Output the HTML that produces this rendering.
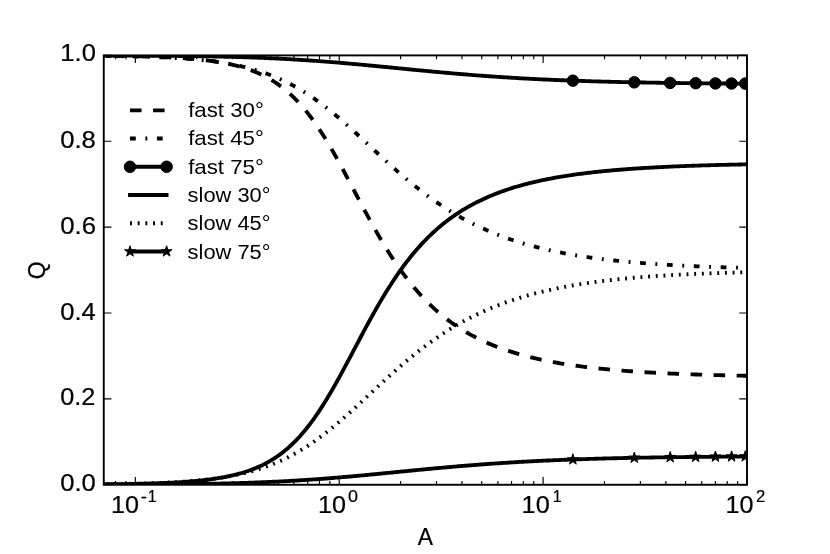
<!DOCTYPE html>
<html><head><meta charset="utf-8"><title>Q vs A</title>
<style>
html,body{margin:0;padding:0;background:#fff;}
body{width:830px;height:554px;overflow:hidden;font-family:"Liberation Sans",sans-serif;}
svg{display:block;}
text{fill:#000;stroke:#000;stroke-width:0.22px;}
text.lg{stroke:none;}
svg{filter:grayscale(1);}
</style></head><body>
<svg width="830" height="554" viewBox="0 0 830 554">
<defs><clipPath id="ax"><rect x="103.75" y="55.40" width="643.25" height="429.35"/></clipPath></defs>
<rect x="0" y="0" width="830" height="554" fill="#fff"/>
<g clip-path="url(#ax)" fill="none" stroke="#000" stroke-width="3.84" stroke-linejoin="round">
<path d="M103.75,55.82 L105.36,55.84 L106.97,55.86 L108.59,55.87 L110.20,55.89 L111.81,55.91 L113.42,55.93 L115.04,55.95 L116.65,55.97 L118.26,55.99 L119.87,56.02 L121.48,56.04 L123.10,56.06 L124.71,56.09 L126.32,56.12 L127.93,56.14 L129.54,56.17 L131.16,56.20 L132.77,56.23 L134.38,56.27 L135.99,56.30 L137.61,56.34 L139.22,56.37 L140.83,56.41 L142.44,56.45 L144.05,56.49 L145.67,56.53 L147.28,56.58 L148.89,56.62 L150.50,56.67 L152.11,56.72 L153.73,56.77 L155.34,56.83 L156.95,56.88 L158.56,56.94 L160.18,57.00 L161.79,57.06 L163.40,57.13 L165.01,57.20 L166.62,57.27 L168.24,57.34 L169.85,57.42 L171.46,57.50 L173.07,57.58 L174.68,57.67 L176.30,57.76 L177.91,57.85 L179.52,57.95 L181.13,58.05 L182.75,58.15 L184.36,58.26 L185.97,58.38 L187.58,58.50 L189.19,58.62 L190.81,58.75 L192.42,58.88 L194.03,59.02 L195.64,59.17 L197.26,59.32 L198.87,59.48 L200.48,59.64 L202.09,59.81 L203.70,59.99 L205.32,60.18 L206.93,60.37 L208.54,60.57 L210.15,60.78 L211.76,61.00 L213.38,61.22 L214.99,61.46 L216.60,61.71 L218.21,61.96 L219.83,62.23 L221.44,62.51 L223.05,62.80 L224.66,63.10 L226.27,63.41 L227.89,63.74 L229.50,64.08 L231.11,64.43 L232.72,64.80 L234.33,65.19 L235.95,65.59 L237.56,66.00 L239.17,66.44 L240.78,66.89 L242.40,67.36 L244.01,67.85 L245.62,68.36 L247.23,68.89 L248.84,69.44 L250.46,70.02 L252.07,70.62 L253.68,71.24 L255.29,71.89 L256.90,72.56 L258.52,73.27 L260.13,74.00 L261.74,74.75 L263.35,75.54 L264.97,76.36 L266.58,77.21 L268.19,78.10 L269.80,79.02 L271.41,79.98 L273.03,80.97 L274.64,82.00 L276.25,83.06 L277.86,84.17 L279.47,85.32 L281.09,86.51 L282.70,87.75 L284.31,89.03 L285.92,90.35 L287.54,91.73 L289.15,93.14 L290.76,94.61 L292.37,96.13 L293.98,97.70 L295.60,99.31 L297.21,100.98 L298.82,102.71 L300.43,104.48 L302.05,106.31 L303.66,108.20 L305.27,110.13 L306.88,112.13 L308.49,114.17 L310.11,116.28 L311.72,118.43 L313.33,120.64 L314.94,122.91 L316.55,125.22 L318.17,127.59 L319.78,130.02 L321.39,132.49 L323.00,135.01 L324.62,137.58 L326.23,140.19 L327.84,142.85 L329.45,145.56 L331.06,148.30 L332.68,151.08 L334.29,153.90 L335.90,156.76 L337.51,159.64 L339.12,162.56 L340.74,165.50 L342.35,168.47 L343.96,171.46 L345.57,174.47 L347.19,177.49 L348.80,180.52 L350.41,183.57 L352.02,186.62 L353.63,189.68 L355.25,192.73 L356.86,195.79 L358.47,198.84 L360.08,201.89 L361.69,204.92 L363.31,207.94 L364.92,210.95 L366.53,213.94 L368.14,216.91 L369.76,219.86 L371.37,222.79 L372.98,225.69 L374.59,228.56 L376.20,231.41 L377.82,234.22 L379.43,237.00 L381.04,239.75 L382.65,242.46 L384.27,245.14 L385.88,247.78 L387.49,250.38 L389.10,252.95 L390.71,255.47 L392.33,257.96 L393.94,260.40 L395.55,262.81 L397.16,265.17 L398.77,267.50 L400.39,269.78 L402.00,272.02 L403.61,274.22 L405.22,276.38 L406.84,278.50 L408.45,280.58 L410.06,282.61 L411.67,284.61 L413.28,286.57 L414.90,288.49 L416.51,290.37 L418.12,292.21 L419.73,294.01 L421.34,295.78 L422.96,297.51 L424.57,299.20 L426.18,300.85 L427.79,302.47 L429.41,304.06 L431.02,305.61 L432.63,307.13 L434.24,308.62 L435.85,310.07 L437.47,311.49 L439.08,312.88 L440.69,314.24 L442.30,315.57 L443.91,316.87 L445.53,318.14 L447.14,319.39 L448.75,320.60 L450.36,321.79 L451.98,322.96 L453.59,324.09 L455.20,325.21 L456.81,326.29 L458.42,327.36 L460.04,328.40 L461.65,329.41 L463.26,330.41 L464.87,331.38 L466.48,332.33 L468.10,333.26 L469.71,334.17 L471.32,335.06 L472.93,335.92 L474.55,336.77 L476.16,337.61 L477.77,338.42 L479.38,339.21 L480.99,339.99 L482.61,340.75 L484.22,341.50 L485.83,342.23 L487.44,342.94 L489.06,343.63 L490.67,344.32 L492.28,344.98 L493.89,345.64 L495.50,346.27 L497.12,346.90 L498.73,347.51 L500.34,348.11 L501.95,348.69 L503.56,349.26 L505.18,349.82 L506.79,350.37 L508.40,350.91 L510.01,351.44 L511.63,351.95 L513.24,352.45 L514.85,352.95 L516.46,353.43 L518.07,353.90 L519.69,354.36 L521.30,354.82 L522.91,355.26 L524.52,355.69 L526.13,356.12 L527.75,356.53 L529.36,356.94 L530.97,357.34 L532.58,357.73 L534.20,358.11 L535.81,358.49 L537.42,358.85 L539.03,359.21 L540.64,359.57 L542.26,359.91 L543.87,360.25 L545.48,360.58 L547.09,360.90 L548.70,361.22 L550.32,361.53 L551.93,361.84 L553.54,362.14 L555.15,362.43 L556.77,362.72 L558.38,363.00 L559.99,363.27 L561.60,363.54 L563.21,363.81 L564.83,364.07 L566.44,364.32 L568.05,364.57 L569.66,364.81 L571.28,365.05 L572.89,365.29 L574.50,365.52 L576.11,365.74 L577.72,365.96 L579.34,366.18 L580.95,366.39 L582.56,366.60 L584.17,366.80 L585.78,367.00 L587.40,367.20 L589.01,367.39 L590.62,367.58 L592.23,367.77 L593.85,367.95 L595.46,368.12 L597.07,368.30 L598.68,368.47 L600.29,368.64 L601.91,368.80 L603.52,368.96 L605.13,369.12 L606.74,369.28 L608.35,369.43 L609.97,369.58 L611.58,369.72 L613.19,369.87 L614.80,370.01 L616.42,370.14 L618.03,370.28 L619.64,370.41 L621.25,370.54 L622.86,370.67 L624.48,370.80 L626.09,370.92 L627.70,371.04 L629.31,371.16 L630.92,371.27 L632.54,371.39 L634.15,371.50 L635.76,371.61 L637.37,371.72 L638.99,371.82 L640.60,371.92 L642.21,372.03 L643.82,372.12 L645.43,372.22 L647.05,372.32 L648.66,372.41 L650.27,372.50 L651.88,372.59 L653.49,372.68 L655.11,372.77 L656.72,372.86 L658.33,372.94 L659.94,373.02 L661.56,373.10 L663.17,373.18 L664.78,373.26 L666.39,373.34 L668.00,373.41 L669.62,373.48 L671.23,373.56 L672.84,373.63 L674.45,373.70 L676.07,373.77 L677.68,373.83 L679.29,373.90 L680.90,373.96 L682.51,374.03 L684.13,374.09 L685.74,374.15 L687.35,374.21 L688.96,374.27 L690.57,374.32 L692.19,374.38 L693.80,374.44 L695.41,374.49 L697.02,374.54 L698.64,374.60 L700.25,374.65 L701.86,374.70 L703.47,374.75 L705.08,374.80 L706.70,374.84 L708.31,374.89 L709.92,374.94 L711.53,374.98 L713.14,375.03 L714.76,375.07 L716.37,375.11 L717.98,375.15 L719.59,375.20 L721.21,375.24 L722.82,375.28 L724.43,375.31 L726.04,375.35 L727.65,375.39 L729.27,375.43 L730.88,375.46 L732.49,375.50 L734.10,375.53 L735.71,375.57 L737.33,375.60 L738.94,375.63 L740.55,375.67 L742.16,375.70 L743.78,375.73 L745.39,375.76 L747.00,375.79" stroke-dasharray="11.53,11.53" stroke-dashoffset="13.15" stroke-linecap="butt"/>
<path d="M103.75,55.92 L105.36,55.94 L106.97,55.96 L108.59,55.98 L110.20,56.01 L111.81,56.03 L113.42,56.05 L115.04,56.08 L116.65,56.10 L118.26,56.13 L119.87,56.15 L121.48,56.18 L123.10,56.21 L124.71,56.24 L126.32,56.27 L127.93,56.30 L129.54,56.34 L131.16,56.37 L132.77,56.41 L134.38,56.44 L135.99,56.48 L137.61,56.52 L139.22,56.56 L140.83,56.61 L142.44,56.65 L144.05,56.70 L145.67,56.74 L147.28,56.79 L148.89,56.84 L150.50,56.90 L152.11,56.95 L153.73,57.01 L155.34,57.07 L156.95,57.13 L158.56,57.19 L160.18,57.26 L161.79,57.32 L163.40,57.40 L165.01,57.47 L166.62,57.54 L168.24,57.62 L169.85,57.70 L171.46,57.79 L173.07,57.87 L174.68,57.96 L176.30,58.06 L177.91,58.15 L179.52,58.25 L181.13,58.36 L182.75,58.47 L184.36,58.58 L185.97,58.69 L187.58,58.81 L189.19,58.93 L190.81,59.06 L192.42,59.19 L194.03,59.33 L195.64,59.47 L197.26,59.62 L198.87,59.77 L200.48,59.93 L202.09,60.09 L203.70,60.26 L205.32,60.43 L206.93,60.61 L208.54,60.80 L210.15,60.99 L211.76,61.19 L213.38,61.40 L214.99,61.61 L216.60,61.83 L218.21,62.06 L219.83,62.29 L221.44,62.53 L223.05,62.78 L224.66,63.04 L226.27,63.31 L227.89,63.59 L229.50,63.87 L231.11,64.17 L232.72,64.47 L234.33,64.79 L235.95,65.11 L237.56,65.45 L239.17,65.80 L240.78,66.15 L242.40,66.52 L244.01,66.90 L245.62,67.29 L247.23,67.70 L248.84,68.11 L250.46,68.54 L252.07,68.98 L253.68,69.44 L255.29,69.91 L256.90,70.39 L258.52,70.89 L260.13,71.40 L261.74,71.93 L263.35,72.47 L264.97,73.03 L266.58,73.60 L268.19,74.19 L269.80,74.79 L271.41,75.41 L273.03,76.05 L274.64,76.71 L276.25,77.38 L277.86,78.07 L279.47,78.78 L281.09,79.51 L282.70,80.25 L284.31,81.01 L285.92,81.80 L287.54,82.60 L289.15,83.42 L290.76,84.25 L292.37,85.11 L293.98,85.99 L295.60,86.89 L297.21,87.80 L298.82,88.74 L300.43,89.69 L302.05,90.67 L303.66,91.67 L305.27,92.68 L306.88,93.71 L308.49,94.77 L310.11,95.84 L311.72,96.93 L313.33,98.04 L314.94,99.17 L316.55,100.32 L318.17,101.49 L319.78,102.68 L321.39,103.88 L323.00,105.10 L324.62,106.34 L326.23,107.59 L327.84,108.87 L329.45,110.15 L331.06,111.46 L332.68,112.78 L334.29,114.11 L335.90,115.46 L337.51,116.82 L339.12,118.19 L340.74,119.58 L342.35,120.98 L343.96,122.39 L345.57,123.81 L347.19,125.24 L348.80,126.69 L350.41,128.14 L352.02,129.59 L353.63,131.06 L355.25,132.53 L356.86,134.01 L358.47,135.50 L360.08,136.99 L361.69,138.48 L363.31,139.98 L364.92,141.48 L366.53,142.98 L368.14,144.48 L369.76,145.99 L371.37,147.49 L372.98,149.00 L374.59,150.50 L376.20,152.00 L377.82,153.50 L379.43,154.99 L381.04,156.48 L382.65,157.97 L384.27,159.45 L385.88,160.93 L387.49,162.40 L389.10,163.86 L390.71,165.32 L392.33,166.77 L393.94,168.21 L395.55,169.64 L397.16,171.07 L398.77,172.48 L400.39,173.89 L402.00,175.28 L403.61,176.66 L405.22,178.04 L406.84,179.40 L408.45,180.75 L410.06,182.09 L411.67,183.42 L413.28,184.73 L414.90,186.03 L416.51,187.32 L418.12,188.60 L419.73,189.86 L421.34,191.11 L422.96,192.35 L424.57,193.57 L426.18,194.78 L427.79,195.97 L429.41,197.16 L431.02,198.32 L432.63,199.48 L434.24,200.62 L435.85,201.74 L437.47,202.85 L439.08,203.95 L440.69,205.03 L442.30,206.10 L443.91,207.15 L445.53,208.19 L447.14,209.22 L448.75,210.23 L450.36,211.23 L451.98,212.21 L453.59,213.18 L455.20,214.14 L456.81,215.08 L458.42,216.01 L460.04,216.93 L461.65,217.83 L463.26,218.72 L464.87,219.59 L466.48,220.45 L468.10,221.30 L469.71,222.14 L471.32,222.96 L472.93,223.77 L474.55,224.57 L476.16,225.35 L477.77,226.13 L479.38,226.89 L480.99,227.63 L482.61,228.37 L484.22,229.10 L485.83,229.81 L487.44,230.51 L489.06,231.20 L490.67,231.88 L492.28,232.55 L493.89,233.20 L495.50,233.85 L497.12,234.49 L498.73,235.11 L500.34,235.73 L501.95,236.33 L503.56,236.92 L505.18,237.51 L506.79,238.08 L508.40,238.65 L510.01,239.20 L511.63,239.75 L513.24,240.28 L514.85,240.81 L516.46,241.33 L518.07,241.84 L519.69,242.34 L521.30,242.83 L522.91,243.32 L524.52,243.79 L526.13,244.26 L527.75,244.72 L529.36,245.17 L530.97,245.61 L532.58,246.05 L534.20,246.48 L535.81,246.90 L537.42,247.31 L539.03,247.72 L540.64,248.12 L542.26,248.51 L543.87,248.89 L545.48,249.27 L547.09,249.64 L548.70,250.01 L550.32,250.37 L551.93,250.72 L553.54,251.07 L555.15,251.41 L556.77,251.74 L558.38,252.07 L559.99,252.39 L561.60,252.71 L563.21,253.02 L564.83,253.33 L566.44,253.63 L568.05,253.92 L569.66,254.21 L571.28,254.50 L572.89,254.78 L574.50,255.05 L576.11,255.32 L577.72,255.59 L579.34,255.85 L580.95,256.10 L582.56,256.35 L584.17,256.60 L585.78,256.84 L587.40,257.08 L589.01,257.31 L590.62,257.54 L592.23,257.77 L593.85,257.99 L595.46,258.21 L597.07,258.42 L598.68,258.63 L600.29,258.84 L601.91,259.04 L603.52,259.24 L605.13,259.43 L606.74,259.62 L608.35,259.81 L609.97,260.00 L611.58,260.18 L613.19,260.36 L614.80,260.53 L616.42,260.70 L618.03,260.87 L619.64,261.04 L621.25,261.20 L622.86,261.36 L624.48,261.52 L626.09,261.67 L627.70,261.82 L629.31,261.97 L630.92,262.12 L632.54,262.26 L634.15,262.40 L635.76,262.54 L637.37,262.68 L638.99,262.81 L640.60,262.94 L642.21,263.07 L643.82,263.19 L645.43,263.32 L647.05,263.44 L648.66,263.56 L650.27,263.68 L651.88,263.79 L653.49,263.91 L655.11,264.02 L656.72,264.13 L658.33,264.23 L659.94,264.34 L661.56,264.44 L663.17,264.54 L664.78,264.64 L666.39,264.74 L668.00,264.84 L669.62,264.93 L671.23,265.03 L672.84,265.12 L674.45,265.21 L676.07,265.29 L677.68,265.38 L679.29,265.46 L680.90,265.55 L682.51,265.63 L684.13,265.71 L685.74,265.79 L687.35,265.87 L688.96,265.94 L690.57,266.02 L692.19,266.09 L693.80,266.16 L695.41,266.23 L697.02,266.30 L698.64,266.37 L700.25,266.44 L701.86,266.50 L703.47,266.57 L705.08,266.63 L706.70,266.69 L708.31,266.75 L709.92,266.81 L711.53,266.87 L713.14,266.93 L714.76,266.99 L716.37,267.04 L717.98,267.10 L719.59,267.15 L721.21,267.20 L722.82,267.25 L724.43,267.31 L726.04,267.36 L727.65,267.40 L729.27,267.45 L730.88,267.50 L732.49,267.55 L734.10,267.59 L735.71,267.64 L737.33,267.68 L738.94,267.72 L740.55,267.77 L742.16,267.81 L743.78,267.85 L745.39,267.89 L747.00,267.93" stroke-dasharray="5.77,9.61,1.92,9.61" stroke-dashoffset="24.95" stroke-linecap="butt"/>
<path d="M103.75,55.52 L105.36,55.52 L106.97,55.53 L108.59,55.53 L110.20,55.53 L111.81,55.54 L113.42,55.54 L115.04,55.55 L116.65,55.55 L118.26,55.56 L119.87,55.56 L121.48,55.57 L123.10,55.58 L124.71,55.58 L126.32,55.59 L127.93,55.59 L129.54,55.60 L131.16,55.61 L132.77,55.62 L134.38,55.62 L135.99,55.63 L137.61,55.64 L139.22,55.65 L140.83,55.65 L142.44,55.66 L144.05,55.67 L145.67,55.68 L147.28,55.69 L148.89,55.70 L150.50,55.71 L152.11,55.72 L153.73,55.73 L155.34,55.74 L156.95,55.75 L158.56,55.77 L160.18,55.78 L161.79,55.79 L163.40,55.80 L165.01,55.82 L166.62,55.83 L168.24,55.84 L169.85,55.86 L171.46,55.87 L173.07,55.89 L174.68,55.90 L176.30,55.92 L177.91,55.94 L179.52,55.96 L181.13,55.97 L182.75,55.99 L184.36,56.01 L185.97,56.03 L187.58,56.05 L189.19,56.07 L190.81,56.09 L192.42,56.11 L194.03,56.14 L195.64,56.16 L197.26,56.18 L198.87,56.21 L200.48,56.23 L202.09,56.26 L203.70,56.29 L205.32,56.31 L206.93,56.34 L208.54,56.37 L210.15,56.40 L211.76,56.43 L213.38,56.46 L214.99,56.49 L216.60,56.53 L218.21,56.56 L219.83,56.60 L221.44,56.63 L223.05,56.67 L224.66,56.71 L226.27,56.74 L227.89,56.78 L229.50,56.82 L231.11,56.87 L232.72,56.91 L234.33,56.95 L235.95,57.00 L237.56,57.04 L239.17,57.09 L240.78,57.14 L242.40,57.19 L244.01,57.24 L245.62,57.29 L247.23,57.34 L248.84,57.40 L250.46,57.45 L252.07,57.51 L253.68,57.57 L255.29,57.62 L256.90,57.68 L258.52,57.75 L260.13,57.81 L261.74,57.87 L263.35,57.94 L264.97,58.01 L266.58,58.08 L268.19,58.15 L269.80,58.22 L271.41,58.29 L273.03,58.36 L274.64,58.44 L276.25,58.52 L277.86,58.60 L279.47,58.68 L281.09,58.76 L282.70,58.84 L284.31,58.92 L285.92,59.01 L287.54,59.10 L289.15,59.19 L290.76,59.28 L292.37,59.37 L293.98,59.46 L295.60,59.56 L297.21,59.66 L298.82,59.76 L300.43,59.86 L302.05,59.96 L303.66,60.06 L305.27,60.17 L306.88,60.27 L308.49,60.38 L310.11,60.49 L311.72,60.60 L313.33,60.71 L314.94,60.83 L316.55,60.94 L318.17,61.06 L319.78,61.18 L321.39,61.30 L323.00,61.42 L324.62,61.54 L326.23,61.66 L327.84,61.79 L329.45,61.92 L331.06,62.05 L332.68,62.18 L334.29,62.31 L335.90,62.44 L337.51,62.57 L339.12,62.71 L340.74,62.84 L342.35,62.98 L343.96,63.12 L345.57,63.26 L347.19,63.40 L348.80,63.54 L350.41,63.68 L352.02,63.83 L353.63,63.97 L355.25,64.12 L356.86,64.27 L358.47,64.41 L360.08,64.56 L361.69,64.71 L363.31,64.86 L364.92,65.01 L366.53,65.16 L368.14,65.32 L369.76,65.47 L371.37,65.62 L372.98,65.78 L374.59,65.93 L376.20,66.09 L377.82,66.25 L379.43,66.40 L381.04,66.56 L382.65,66.72 L384.27,66.87 L385.88,67.03 L387.49,67.19 L389.10,67.35 L390.71,67.51 L392.33,67.67 L393.94,67.82 L395.55,67.98 L397.16,68.14 L398.77,68.30 L400.39,68.46 L402.00,68.62 L403.61,68.78 L405.22,68.93 L406.84,69.09 L408.45,69.25 L410.06,69.41 L411.67,69.57 L413.28,69.72 L414.90,69.88 L416.51,70.04 L418.12,70.19 L419.73,70.35 L421.34,70.50 L422.96,70.66 L424.57,70.81 L426.18,70.96 L427.79,71.12 L429.41,71.27 L431.02,71.42 L432.63,71.57 L434.24,71.72 L435.85,71.87 L437.47,72.02 L439.08,72.17 L440.69,72.31 L442.30,72.46 L443.91,72.60 L445.53,72.75 L447.14,72.89 L448.75,73.03 L450.36,73.17 L451.98,73.31 L453.59,73.45 L455.20,73.59 L456.81,73.73 L458.42,73.87 L460.04,74.00 L461.65,74.14 L463.26,74.27 L464.87,74.40 L466.48,74.53 L468.10,74.66 L469.71,74.79 L471.32,74.92 L472.93,75.05 L474.55,75.17 L476.16,75.30 L477.77,75.42 L479.38,75.54 L480.99,75.66 L482.61,75.78 L484.22,75.90 L485.83,76.02 L487.44,76.13 L489.06,76.25 L490.67,76.36 L492.28,76.47 L493.89,76.59 L495.50,76.70 L497.12,76.80 L498.73,76.91 L500.34,77.02 L501.95,77.12 L503.56,77.23 L505.18,77.33 L506.79,77.43 L508.40,77.53 L510.01,77.63 L511.63,77.73 L513.24,77.83 L514.85,77.93 L516.46,78.02 L518.07,78.11 L519.69,78.21 L521.30,78.30 L522.91,78.39 L524.52,78.48 L526.13,78.56 L527.75,78.65 L529.36,78.74 L530.97,78.82 L532.58,78.91 L534.20,78.99 L535.81,79.07 L537.42,79.15 L539.03,79.23 L540.64,79.31 L542.26,79.38 L543.87,79.46 L545.48,79.53 L547.09,79.61 L548.70,79.68 L550.32,79.75 L551.93,79.82 L553.54,79.89 L555.15,79.96 L556.77,80.03 L558.38,80.10 L559.99,80.16 L561.60,80.23 L563.21,80.29 L564.83,80.36 L566.44,80.42 L568.05,80.48 L569.66,80.54 L571.28,80.60 L572.89,80.66 L574.50,80.72 L576.11,80.77 L577.72,80.83 L579.34,80.88 L580.95,80.94 L582.56,80.99 L584.17,81.04 L585.78,81.10 L587.40,81.15 L589.01,81.20 L590.62,81.25 L592.23,81.30 L593.85,81.34 L595.46,81.39 L597.07,81.44 L598.68,81.48 L600.29,81.53 L601.91,81.57 L603.52,81.62 L605.13,81.66 L606.74,81.70 L608.35,81.74 L609.97,81.79 L611.58,81.83 L613.19,81.87 L614.80,81.90 L616.42,81.94 L618.03,81.98 L619.64,82.02 L621.25,82.05 L622.86,82.09 L624.48,82.13 L626.09,82.16 L627.70,82.20 L629.31,82.23 L630.92,82.26 L632.54,82.30 L634.15,82.33 L635.76,82.36 L637.37,82.39 L638.99,82.42 L640.60,82.45 L642.21,82.48 L643.82,82.51 L645.43,82.54 L647.05,82.57 L648.66,82.59 L650.27,82.62 L651.88,82.65 L653.49,82.67 L655.11,82.70 L656.72,82.73 L658.33,82.75 L659.94,82.77 L661.56,82.80 L663.17,82.82 L664.78,82.85 L666.39,82.87 L668.00,82.89 L669.62,82.91 L671.23,82.94 L672.84,82.96 L674.45,82.98 L676.07,83.00 L677.68,83.02 L679.29,83.04 L680.90,83.06 L682.51,83.08 L684.13,83.10 L685.74,83.12 L687.35,83.13 L688.96,83.15 L690.57,83.17 L692.19,83.19 L693.80,83.21 L695.41,83.22 L697.02,83.24 L698.64,83.25 L700.25,83.27 L701.86,83.29 L703.47,83.30 L705.08,83.32 L706.70,83.33 L708.31,83.35 L709.92,83.36 L711.53,83.38 L713.14,83.39 L714.76,83.40 L716.37,83.42 L717.98,83.43 L719.59,83.44 L721.21,83.46 L722.82,83.47 L724.43,83.48 L726.04,83.49 L727.65,83.50 L729.27,83.52 L730.88,83.53 L732.49,83.54 L734.10,83.55 L735.71,83.56 L737.33,83.57 L738.94,83.58 L740.55,83.59 L742.16,83.60 L743.78,83.61 L745.39,83.62 L747.00,83.63" stroke-linecap="square"/>
<circle cx="572.90" cy="80.66" r="5.77" fill="#000" stroke="#000" stroke-width="0.96"/>
<circle cx="634.28" cy="82.33" r="5.77" fill="#000" stroke="#000" stroke-width="0.96"/>
<circle cx="670.18" cy="82.92" r="5.77" fill="#000" stroke="#000" stroke-width="0.96"/>
<circle cx="695.66" cy="83.22" r="5.77" fill="#000" stroke="#000" stroke-width="0.96"/>
<circle cx="715.42" cy="83.41" r="5.77" fill="#000" stroke="#000" stroke-width="0.96"/>
<circle cx="731.56" cy="83.53" r="5.77" fill="#000" stroke="#000" stroke-width="0.96"/>
<circle cx="745.21" cy="83.62" r="5.77" fill="#000" stroke="#000" stroke-width="0.96"/>
<path d="M103.75,484.33 L105.36,484.31 L106.97,484.29 L108.59,484.28 L110.20,484.26 L111.81,484.24 L113.42,484.22 L115.04,484.20 L116.65,484.18 L118.26,484.16 L119.87,484.13 L121.48,484.11 L123.10,484.09 L124.71,484.06 L126.32,484.03 L127.93,484.01 L129.54,483.98 L131.16,483.95 L132.77,483.92 L134.38,483.88 L135.99,483.85 L137.61,483.81 L139.22,483.78 L140.83,483.74 L142.44,483.70 L144.05,483.66 L145.67,483.62 L147.28,483.57 L148.89,483.53 L150.50,483.48 L152.11,483.43 L153.73,483.38 L155.34,483.32 L156.95,483.27 L158.56,483.21 L160.18,483.15 L161.79,483.09 L163.40,483.02 L165.01,482.95 L166.62,482.88 L168.24,482.81 L169.85,482.73 L171.46,482.65 L173.07,482.57 L174.68,482.48 L176.30,482.39 L177.91,482.30 L179.52,482.20 L181.13,482.10 L182.75,482.00 L184.36,481.89 L185.97,481.77 L187.58,481.65 L189.19,481.53 L190.81,481.40 L192.42,481.27 L194.03,481.13 L195.64,480.98 L197.26,480.83 L198.87,480.67 L200.48,480.51 L202.09,480.34 L203.70,480.16 L205.32,479.97 L206.93,479.78 L208.54,479.58 L210.15,479.37 L211.76,479.15 L213.38,478.93 L214.99,478.69 L216.60,478.44 L218.21,478.19 L219.83,477.92 L221.44,477.64 L223.05,477.35 L224.66,477.05 L226.27,476.74 L227.89,476.41 L229.50,476.07 L231.11,475.72 L232.72,475.35 L234.33,474.96 L235.95,474.56 L237.56,474.15 L239.17,473.71 L240.78,473.26 L242.40,472.79 L244.01,472.30 L245.62,471.79 L247.23,471.26 L248.84,470.71 L250.46,470.13 L252.07,469.53 L253.68,468.91 L255.29,468.26 L256.90,467.59 L258.52,466.88 L260.13,466.15 L261.74,465.40 L263.35,464.61 L264.97,463.79 L266.58,462.94 L268.19,462.05 L269.80,461.13 L271.41,460.17 L273.03,459.18 L274.64,458.15 L276.25,457.09 L277.86,455.98 L279.47,454.83 L281.09,453.64 L282.70,452.40 L284.31,451.12 L285.92,449.80 L287.54,448.42 L289.15,447.01 L290.76,445.54 L292.37,444.02 L293.98,442.45 L295.60,440.84 L297.21,439.17 L298.82,437.44 L300.43,435.67 L302.05,433.84 L303.66,431.95 L305.27,430.02 L306.88,428.02 L308.49,425.98 L310.11,423.87 L311.72,421.72 L313.33,419.51 L314.94,417.24 L316.55,414.93 L318.17,412.56 L319.78,410.13 L321.39,407.66 L323.00,405.14 L324.62,402.57 L326.23,399.96 L327.84,397.30 L329.45,394.59 L331.06,391.85 L332.68,389.07 L334.29,386.25 L335.90,383.39 L337.51,380.51 L339.12,377.59 L340.74,374.65 L342.35,371.68 L343.96,368.69 L345.57,365.68 L347.19,362.66 L348.80,359.63 L350.41,356.58 L352.02,353.53 L353.63,350.47 L355.25,347.42 L356.86,344.36 L358.47,341.31 L360.08,338.26 L361.69,335.23 L363.31,332.21 L364.92,329.20 L366.53,326.21 L368.14,323.24 L369.76,320.29 L371.37,317.36 L372.98,314.46 L374.59,311.59 L376.20,308.74 L377.82,305.93 L379.43,303.15 L381.04,300.40 L382.65,297.69 L384.27,295.01 L385.88,292.37 L387.49,289.77 L389.10,287.20 L390.71,284.68 L392.33,282.19 L393.94,279.75 L395.55,277.34 L397.16,274.98 L398.77,272.65 L400.39,270.37 L402.00,268.13 L403.61,265.93 L405.22,263.77 L406.84,261.65 L408.45,259.57 L410.06,257.54 L411.67,255.54 L413.28,253.58 L414.90,251.66 L416.51,249.78 L418.12,247.94 L419.73,246.14 L421.34,244.37 L422.96,242.64 L424.57,240.95 L426.18,239.30 L427.79,237.68 L429.41,236.09 L431.02,234.54 L432.63,233.02 L434.24,231.53 L435.85,230.08 L437.47,228.66 L439.08,227.27 L440.69,225.91 L442.30,224.58 L443.91,223.28 L445.53,222.01 L447.14,220.76 L448.75,219.55 L450.36,218.36 L451.98,217.19 L453.59,216.06 L455.20,214.94 L456.81,213.86 L458.42,212.79 L460.04,211.75 L461.65,210.74 L463.26,209.74 L464.87,208.77 L466.48,207.82 L468.10,206.89 L469.71,205.98 L471.32,205.09 L472.93,204.23 L474.55,203.38 L476.16,202.54 L477.77,201.73 L479.38,200.94 L480.99,200.16 L482.61,199.40 L484.22,198.65 L485.83,197.92 L487.44,197.21 L489.06,196.52 L490.67,195.83 L492.28,195.17 L493.89,194.51 L495.50,193.88 L497.12,193.25 L498.73,192.64 L500.34,192.04 L501.95,191.46 L503.56,190.89 L505.18,190.33 L506.79,189.78 L508.40,189.24 L510.01,188.71 L511.63,188.20 L513.24,187.70 L514.85,187.20 L516.46,186.72 L518.07,186.25 L519.69,185.79 L521.30,185.33 L522.91,184.89 L524.52,184.46 L526.13,184.03 L527.75,183.62 L529.36,183.21 L530.97,182.81 L532.58,182.42 L534.20,182.04 L535.81,181.66 L537.42,181.30 L539.03,180.94 L540.64,180.58 L542.26,180.24 L543.87,179.90 L545.48,179.57 L547.09,179.25 L548.70,178.93 L550.32,178.62 L551.93,178.31 L553.54,178.01 L555.15,177.72 L556.77,177.43 L558.38,177.15 L559.99,176.88 L561.60,176.61 L563.21,176.34 L564.83,176.08 L566.44,175.83 L568.05,175.58 L569.66,175.34 L571.28,175.10 L572.89,174.86 L574.50,174.63 L576.11,174.41 L577.72,174.19 L579.34,173.97 L580.95,173.76 L582.56,173.55 L584.17,173.35 L585.78,173.15 L587.40,172.95 L589.01,172.76 L590.62,172.57 L592.23,172.38 L593.85,172.20 L595.46,172.03 L597.07,171.85 L598.68,171.68 L600.29,171.51 L601.91,171.35 L603.52,171.19 L605.13,171.03 L606.74,170.87 L608.35,170.72 L609.97,170.57 L611.58,170.43 L613.19,170.28 L614.80,170.14 L616.42,170.01 L618.03,169.87 L619.64,169.74 L621.25,169.61 L622.86,169.48 L624.48,169.35 L626.09,169.23 L627.70,169.11 L629.31,168.99 L630.92,168.88 L632.54,168.76 L634.15,168.65 L635.76,168.54 L637.37,168.43 L638.99,168.33 L640.60,168.23 L642.21,168.12 L643.82,168.03 L645.43,167.93 L647.05,167.83 L648.66,167.74 L650.27,167.65 L651.88,167.56 L653.49,167.47 L655.11,167.38 L656.72,167.29 L658.33,167.21 L659.94,167.13 L661.56,167.05 L663.17,166.97 L664.78,166.89 L666.39,166.81 L668.00,166.74 L669.62,166.67 L671.23,166.59 L672.84,166.52 L674.45,166.45 L676.07,166.38 L677.68,166.32 L679.29,166.25 L680.90,166.19 L682.51,166.12 L684.13,166.06 L685.74,166.00 L687.35,165.94 L688.96,165.88 L690.57,165.83 L692.19,165.77 L693.80,165.71 L695.41,165.66 L697.02,165.61 L698.64,165.55 L700.25,165.50 L701.86,165.45 L703.47,165.40 L705.08,165.35 L706.70,165.31 L708.31,165.26 L709.92,165.21 L711.53,165.17 L713.14,165.12 L714.76,165.08 L716.37,165.04 L717.98,165.00 L719.59,164.95 L721.21,164.91 L722.82,164.87 L724.43,164.84 L726.04,164.80 L727.65,164.76 L729.27,164.72 L730.88,164.69 L732.49,164.65 L734.10,164.62 L735.71,164.58 L737.33,164.55 L738.94,164.52 L740.55,164.48 L742.16,164.45 L743.78,164.42 L745.39,164.39 L747.00,164.36" stroke-linecap="square"/>
<path d="M103.75,484.23 L105.36,484.21 L106.97,484.19 L108.59,484.17 L110.20,484.14 L111.81,484.12 L113.42,484.10 L115.04,484.07 L116.65,484.05 L118.26,484.02 L119.87,484.00 L121.48,483.97 L123.10,483.94 L124.71,483.91 L126.32,483.88 L127.93,483.85 L129.54,483.81 L131.16,483.78 L132.77,483.74 L134.38,483.71 L135.99,483.67 L137.61,483.63 L139.22,483.59 L140.83,483.54 L142.44,483.50 L144.05,483.45 L145.67,483.41 L147.28,483.36 L148.89,483.31 L150.50,483.25 L152.11,483.20 L153.73,483.14 L155.34,483.08 L156.95,483.02 L158.56,482.96 L160.18,482.89 L161.79,482.83 L163.40,482.75 L165.01,482.68 L166.62,482.61 L168.24,482.53 L169.85,482.45 L171.46,482.36 L173.07,482.28 L174.68,482.19 L176.30,482.09 L177.91,482.00 L179.52,481.90 L181.13,481.79 L182.75,481.68 L184.36,481.57 L185.97,481.46 L187.58,481.34 L189.19,481.22 L190.81,481.09 L192.42,480.96 L194.03,480.82 L195.64,480.68 L197.26,480.53 L198.87,480.38 L200.48,480.22 L202.09,480.06 L203.70,479.89 L205.32,479.72 L206.93,479.54 L208.54,479.35 L210.15,479.16 L211.76,478.96 L213.38,478.75 L214.99,478.54 L216.60,478.32 L218.21,478.09 L219.83,477.86 L221.44,477.62 L223.05,477.37 L224.66,477.11 L226.27,476.84 L227.89,476.56 L229.50,476.28 L231.11,475.98 L232.72,475.68 L234.33,475.36 L235.95,475.04 L237.56,474.70 L239.17,474.35 L240.78,474.00 L242.40,473.63 L244.01,473.25 L245.62,472.86 L247.23,472.45 L248.84,472.04 L250.46,471.61 L252.07,471.17 L253.68,470.71 L255.29,470.24 L256.90,469.76 L258.52,469.26 L260.13,468.75 L261.74,468.22 L263.35,467.68 L264.97,467.12 L266.58,466.55 L268.19,465.96 L269.80,465.36 L271.41,464.74 L273.03,464.10 L274.64,463.44 L276.25,462.77 L277.86,462.08 L279.47,461.37 L281.09,460.64 L282.70,459.90 L284.31,459.14 L285.92,458.35 L287.54,457.55 L289.15,456.73 L290.76,455.90 L292.37,455.04 L293.98,454.16 L295.60,453.26 L297.21,452.35 L298.82,451.41 L300.43,450.46 L302.05,449.48 L303.66,448.48 L305.27,447.47 L306.88,446.44 L308.49,445.38 L310.11,444.31 L311.72,443.22 L313.33,442.11 L314.94,440.98 L316.55,439.83 L318.17,438.66 L319.78,437.47 L321.39,436.27 L323.00,435.05 L324.62,433.81 L326.23,432.56 L327.84,431.28 L329.45,430.00 L331.06,428.69 L332.68,427.37 L334.29,426.04 L335.90,424.69 L337.51,423.33 L339.12,421.96 L340.74,420.57 L342.35,419.17 L343.96,417.76 L345.57,416.34 L347.19,414.91 L348.80,413.46 L350.41,412.01 L352.02,410.56 L353.63,409.09 L355.25,407.62 L356.86,406.14 L358.47,404.65 L360.08,403.16 L361.69,401.67 L363.31,400.17 L364.92,398.67 L366.53,397.17 L368.14,395.67 L369.76,394.16 L371.37,392.66 L372.98,391.15 L374.59,389.65 L376.20,388.15 L377.82,386.65 L379.43,385.16 L381.04,383.67 L382.65,382.18 L384.27,380.70 L385.88,379.22 L387.49,377.75 L389.10,376.29 L390.71,374.83 L392.33,373.38 L393.94,371.94 L395.55,370.51 L397.16,369.08 L398.77,367.67 L400.39,366.26 L402.00,364.87 L403.61,363.49 L405.22,362.11 L406.84,360.75 L408.45,359.40 L410.06,358.06 L411.67,356.73 L413.28,355.42 L414.90,354.12 L416.51,352.83 L418.12,351.55 L419.73,350.29 L421.34,349.04 L422.96,347.80 L424.57,346.58 L426.18,345.37 L427.79,344.18 L429.41,342.99 L431.02,341.83 L432.63,340.67 L434.24,339.53 L435.85,338.41 L437.47,337.30 L439.08,336.20 L440.69,335.12 L442.30,334.05 L443.91,333.00 L445.53,331.96 L447.14,330.93 L448.75,329.92 L450.36,328.92 L451.98,327.94 L453.59,326.97 L455.20,326.01 L456.81,325.07 L458.42,324.14 L460.04,323.22 L461.65,322.32 L463.26,321.43 L464.87,320.56 L466.48,319.70 L468.10,318.85 L469.71,318.01 L471.32,317.19 L472.93,316.38 L474.55,315.58 L476.16,314.80 L477.77,314.02 L479.38,313.26 L480.99,312.52 L482.61,311.78 L484.22,311.05 L485.83,310.34 L487.44,309.64 L489.06,308.95 L490.67,308.27 L492.28,307.60 L493.89,306.95 L495.50,306.30 L497.12,305.66 L498.73,305.04 L500.34,304.42 L501.95,303.82 L503.56,303.23 L505.18,302.64 L506.79,302.07 L508.40,301.50 L510.01,300.95 L511.63,300.40 L513.24,299.87 L514.85,299.34 L516.46,298.82 L518.07,298.31 L519.69,297.81 L521.30,297.32 L522.91,296.83 L524.52,296.36 L526.13,295.89 L527.75,295.43 L529.36,294.98 L530.97,294.54 L532.58,294.10 L534.20,293.67 L535.81,293.25 L537.42,292.84 L539.03,292.43 L540.64,292.03 L542.26,291.64 L543.87,291.26 L545.48,290.88 L547.09,290.51 L548.70,290.14 L550.32,289.78 L551.93,289.43 L553.54,289.08 L555.15,288.74 L556.77,288.41 L558.38,288.08 L559.99,287.76 L561.60,287.44 L563.21,287.13 L564.83,286.82 L566.44,286.52 L568.05,286.23 L569.66,285.94 L571.28,285.65 L572.89,285.37 L574.50,285.10 L576.11,284.83 L577.72,284.56 L579.34,284.30 L580.95,284.05 L582.56,283.80 L584.17,283.55 L585.78,283.31 L587.40,283.07 L589.01,282.84 L590.62,282.61 L592.23,282.38 L593.85,282.16 L595.46,281.94 L597.07,281.73 L598.68,281.52 L600.29,281.31 L601.91,281.11 L603.52,280.91 L605.13,280.72 L606.74,280.53 L608.35,280.34 L609.97,280.15 L611.58,279.97 L613.19,279.79 L614.80,279.62 L616.42,279.45 L618.03,279.28 L619.64,279.11 L621.25,278.95 L622.86,278.79 L624.48,278.63 L626.09,278.48 L627.70,278.33 L629.31,278.18 L630.92,278.03 L632.54,277.89 L634.15,277.75 L635.76,277.61 L637.37,277.47 L638.99,277.34 L640.60,277.21 L642.21,277.08 L643.82,276.96 L645.43,276.83 L647.05,276.71 L648.66,276.59 L650.27,276.47 L651.88,276.36 L653.49,276.24 L655.11,276.13 L656.72,276.02 L658.33,275.92 L659.94,275.81 L661.56,275.71 L663.17,275.61 L664.78,275.51 L666.39,275.41 L668.00,275.31 L669.62,275.22 L671.23,275.12 L672.84,275.03 L674.45,274.94 L676.07,274.86 L677.68,274.77 L679.29,274.69 L680.90,274.60 L682.51,274.52 L684.13,274.44 L685.74,274.36 L687.35,274.28 L688.96,274.21 L690.57,274.13 L692.19,274.06 L693.80,273.99 L695.41,273.92 L697.02,273.85 L698.64,273.78 L700.25,273.71 L701.86,273.65 L703.47,273.58 L705.08,273.52 L706.70,273.46 L708.31,273.40 L709.92,273.34 L711.53,273.28 L713.14,273.22 L714.76,273.16 L716.37,273.11 L717.98,273.05 L719.59,273.00 L721.21,272.95 L722.82,272.90 L724.43,272.84 L726.04,272.79 L727.65,272.75 L729.27,272.70 L730.88,272.65 L732.49,272.60 L734.10,272.56 L735.71,272.51 L737.33,272.47 L738.94,272.43 L740.55,272.38 L742.16,272.34 L743.78,272.30 L745.39,272.26 L747.00,272.22" stroke-dasharray="1.92,5.77" stroke-dashoffset="5.44" stroke-linecap="butt"/>
<path d="M103.75,484.63 L105.36,484.63 L106.97,484.62 L108.59,484.62 L110.20,484.62 L111.81,484.61 L113.42,484.61 L115.04,484.60 L116.65,484.60 L118.26,484.59 L119.87,484.59 L121.48,484.58 L123.10,484.57 L124.71,484.57 L126.32,484.56 L127.93,484.56 L129.54,484.55 L131.16,484.54 L132.77,484.53 L134.38,484.53 L135.99,484.52 L137.61,484.51 L139.22,484.50 L140.83,484.50 L142.44,484.49 L144.05,484.48 L145.67,484.47 L147.28,484.46 L148.89,484.45 L150.50,484.44 L152.11,484.43 L153.73,484.42 L155.34,484.41 L156.95,484.40 L158.56,484.38 L160.18,484.37 L161.79,484.36 L163.40,484.35 L165.01,484.33 L166.62,484.32 L168.24,484.31 L169.85,484.29 L171.46,484.28 L173.07,484.26 L174.68,484.25 L176.30,484.23 L177.91,484.21 L179.52,484.19 L181.13,484.18 L182.75,484.16 L184.36,484.14 L185.97,484.12 L187.58,484.10 L189.19,484.08 L190.81,484.06 L192.42,484.04 L194.03,484.01 L195.64,483.99 L197.26,483.97 L198.87,483.94 L200.48,483.92 L202.09,483.89 L203.70,483.86 L205.32,483.84 L206.93,483.81 L208.54,483.78 L210.15,483.75 L211.76,483.72 L213.38,483.69 L214.99,483.66 L216.60,483.62 L218.21,483.59 L219.83,483.55 L221.44,483.52 L223.05,483.48 L224.66,483.44 L226.27,483.41 L227.89,483.37 L229.50,483.33 L231.11,483.28 L232.72,483.24 L234.33,483.20 L235.95,483.15 L237.56,483.11 L239.17,483.06 L240.78,483.01 L242.40,482.96 L244.01,482.91 L245.62,482.86 L247.23,482.81 L248.84,482.75 L250.46,482.70 L252.07,482.64 L253.68,482.58 L255.29,482.53 L256.90,482.47 L258.52,482.40 L260.13,482.34 L261.74,482.28 L263.35,482.21 L264.97,482.14 L266.58,482.07 L268.19,482.00 L269.80,481.93 L271.41,481.86 L273.03,481.79 L274.64,481.71 L276.25,481.63 L277.86,481.55 L279.47,481.47 L281.09,481.39 L282.70,481.31 L284.31,481.23 L285.92,481.14 L287.54,481.05 L289.15,480.96 L290.76,480.87 L292.37,480.78 L293.98,480.69 L295.60,480.59 L297.21,480.49 L298.82,480.39 L300.43,480.29 L302.05,480.19 L303.66,480.09 L305.27,479.98 L306.88,479.88 L308.49,479.77 L310.11,479.66 L311.72,479.55 L313.33,479.44 L314.94,479.32 L316.55,479.21 L318.17,479.09 L319.78,478.97 L321.39,478.85 L323.00,478.73 L324.62,478.61 L326.23,478.49 L327.84,478.36 L329.45,478.23 L331.06,478.10 L332.68,477.97 L334.29,477.84 L335.90,477.71 L337.51,477.58 L339.12,477.44 L340.74,477.31 L342.35,477.17 L343.96,477.03 L345.57,476.89 L347.19,476.75 L348.80,476.61 L350.41,476.47 L352.02,476.32 L353.63,476.18 L355.25,476.03 L356.86,475.88 L358.47,475.74 L360.08,475.59 L361.69,475.44 L363.31,475.29 L364.92,475.14 L366.53,474.99 L368.14,474.83 L369.76,474.68 L371.37,474.53 L372.98,474.37 L374.59,474.22 L376.20,474.06 L377.82,473.90 L379.43,473.75 L381.04,473.59 L382.65,473.43 L384.27,473.28 L385.88,473.12 L387.49,472.96 L389.10,472.80 L390.71,472.64 L392.33,472.48 L393.94,472.33 L395.55,472.17 L397.16,472.01 L398.77,471.85 L400.39,471.69 L402.00,471.53 L403.61,471.37 L405.22,471.22 L406.84,471.06 L408.45,470.90 L410.06,470.74 L411.67,470.58 L413.28,470.43 L414.90,470.27 L416.51,470.11 L418.12,469.96 L419.73,469.80 L421.34,469.65 L422.96,469.49 L424.57,469.34 L426.18,469.19 L427.79,469.03 L429.41,468.88 L431.02,468.73 L432.63,468.58 L434.24,468.43 L435.85,468.28 L437.47,468.13 L439.08,467.98 L440.69,467.84 L442.30,467.69 L443.91,467.55 L445.53,467.40 L447.14,467.26 L448.75,467.12 L450.36,466.98 L451.98,466.84 L453.59,466.70 L455.20,466.56 L456.81,466.42 L458.42,466.28 L460.04,466.15 L461.65,466.01 L463.26,465.88 L464.87,465.75 L466.48,465.62 L468.10,465.49 L469.71,465.36 L471.32,465.23 L472.93,465.10 L474.55,464.98 L476.16,464.85 L477.77,464.73 L479.38,464.61 L480.99,464.49 L482.61,464.37 L484.22,464.25 L485.83,464.13 L487.44,464.02 L489.06,463.90 L490.67,463.79 L492.28,463.68 L493.89,463.56 L495.50,463.45 L497.12,463.35 L498.73,463.24 L500.34,463.13 L501.95,463.03 L503.56,462.92 L505.18,462.82 L506.79,462.72 L508.40,462.62 L510.01,462.52 L511.63,462.42 L513.24,462.32 L514.85,462.22 L516.46,462.13 L518.07,462.04 L519.69,461.94 L521.30,461.85 L522.91,461.76 L524.52,461.67 L526.13,461.59 L527.75,461.50 L529.36,461.41 L530.97,461.33 L532.58,461.24 L534.20,461.16 L535.81,461.08 L537.42,461.00 L539.03,460.92 L540.64,460.84 L542.26,460.77 L543.87,460.69 L545.48,460.62 L547.09,460.54 L548.70,460.47 L550.32,460.40 L551.93,460.33 L553.54,460.26 L555.15,460.19 L556.77,460.12 L558.38,460.05 L559.99,459.99 L561.60,459.92 L563.21,459.86 L564.83,459.79 L566.44,459.73 L568.05,459.67 L569.66,459.61 L571.28,459.55 L572.89,459.49 L574.50,459.43 L576.11,459.38 L577.72,459.32 L579.34,459.27 L580.95,459.21 L582.56,459.16 L584.17,459.11 L585.78,459.05 L587.40,459.00 L589.01,458.95 L590.62,458.90 L592.23,458.85 L593.85,458.81 L595.46,458.76 L597.07,458.71 L598.68,458.67 L600.29,458.62 L601.91,458.58 L603.52,458.53 L605.13,458.49 L606.74,458.45 L608.35,458.41 L609.97,458.36 L611.58,458.32 L613.19,458.28 L614.80,458.25 L616.42,458.21 L618.03,458.17 L619.64,458.13 L621.25,458.10 L622.86,458.06 L624.48,458.02 L626.09,457.99 L627.70,457.95 L629.31,457.92 L630.92,457.89 L632.54,457.85 L634.15,457.82 L635.76,457.79 L637.37,457.76 L638.99,457.73 L640.60,457.70 L642.21,457.67 L643.82,457.64 L645.43,457.61 L647.05,457.58 L648.66,457.56 L650.27,457.53 L651.88,457.50 L653.49,457.48 L655.11,457.45 L656.72,457.42 L658.33,457.40 L659.94,457.38 L661.56,457.35 L663.17,457.33 L664.78,457.30 L666.39,457.28 L668.00,457.26 L669.62,457.24 L671.23,457.21 L672.84,457.19 L674.45,457.17 L676.07,457.15 L677.68,457.13 L679.29,457.11 L680.90,457.09 L682.51,457.07 L684.13,457.05 L685.74,457.03 L687.35,457.02 L688.96,457.00 L690.57,456.98 L692.19,456.96 L693.80,456.94 L695.41,456.93 L697.02,456.91 L698.64,456.90 L700.25,456.88 L701.86,456.86 L703.47,456.85 L705.08,456.83 L706.70,456.82 L708.31,456.80 L709.92,456.79 L711.53,456.77 L713.14,456.76 L714.76,456.75 L716.37,456.73 L717.98,456.72 L719.59,456.71 L721.21,456.69 L722.82,456.68 L724.43,456.67 L726.04,456.66 L727.65,456.65 L729.27,456.63 L730.88,456.62 L732.49,456.61 L734.10,456.60 L735.71,456.59 L737.33,456.58 L738.94,456.57 L740.55,456.56 L742.16,456.55 L743.78,456.54 L745.39,456.53 L747.00,456.52" stroke-linecap="square"/>
<path d="M572.90,453.73 L574.20,457.71 L578.39,457.71 L575.00,460.17 L576.29,464.16 L572.90,461.69 L569.52,464.16 L570.81,460.17 L567.42,457.71 L571.61,457.71Z" fill="#000" stroke="#000" stroke-width="0.96" stroke-linejoin="miter"/>
<path d="M634.28,452.05 L635.58,456.04 L639.77,456.04 L636.38,458.50 L637.67,462.49 L634.28,460.02 L630.89,462.49 L632.19,458.50 L628.80,456.04 L632.99,456.04Z" fill="#000" stroke="#000" stroke-width="0.96" stroke-linejoin="miter"/>
<path d="M670.18,451.46 L671.48,455.45 L675.67,455.45 L672.28,457.91 L673.57,461.89 L670.18,459.43 L666.80,461.89 L668.09,457.91 L664.70,455.45 L668.89,455.45Z" fill="#000" stroke="#000" stroke-width="0.96" stroke-linejoin="miter"/>
<path d="M695.66,451.16 L696.95,455.14 L701.14,455.14 L697.75,457.61 L699.05,461.59 L695.66,459.13 L692.27,461.59 L693.56,457.61 L690.17,455.14 L694.36,455.14Z" fill="#000" stroke="#000" stroke-width="0.96" stroke-linejoin="miter"/>
<path d="M715.42,450.98 L716.71,454.96 L720.90,454.96 L717.51,457.42 L718.81,461.41 L715.42,458.94 L712.03,461.41 L713.32,457.42 L709.93,454.96 L714.12,454.96Z" fill="#000" stroke="#000" stroke-width="0.96" stroke-linejoin="miter"/>
<path d="M731.56,450.85 L732.86,454.84 L737.05,454.84 L733.66,457.30 L734.95,461.28 L731.56,458.82 L728.17,461.28 L729.47,457.30 L726.08,454.84 L730.27,454.84Z" fill="#000" stroke="#000" stroke-width="0.96" stroke-linejoin="miter"/>
<path d="M745.21,450.76 L746.51,454.75 L750.70,454.75 L747.31,457.21 L748.60,461.19 L745.21,458.73 L741.82,461.19 L743.12,457.21 L739.73,454.75 L743.92,454.75Z" fill="#000" stroke="#000" stroke-width="0.96" stroke-linejoin="miter"/>
</g>
<path d="M103.75,484.75 v-3.84 M103.75,55.40 v3.84 M115.57,484.75 v-3.84 M115.57,55.40 v3.84 M126.00,484.75 v-3.84 M126.00,55.40 v3.84 M135.33,484.75 v-7.69 M135.33,55.40 v7.69 M196.71,484.75 v-3.84 M196.71,55.40 v3.84 M232.61,484.75 v-3.84 M232.61,55.40 v3.84 M258.09,484.75 v-3.84 M258.09,55.40 v3.84 M277.85,484.75 v-3.84 M277.85,55.40 v3.84 M293.99,484.75 v-3.84 M293.99,55.40 v3.84 M307.64,484.75 v-3.84 M307.64,55.40 v3.84 M319.46,484.75 v-3.84 M319.46,55.40 v3.84 M329.89,484.75 v-3.84 M329.89,55.40 v3.84 M339.22,484.75 v-7.69 M339.22,55.40 v7.69 M400.60,484.75 v-3.84 M400.60,55.40 v3.84 M436.50,484.75 v-3.84 M436.50,55.40 v3.84 M461.98,484.75 v-3.84 M461.98,55.40 v3.84 M481.73,484.75 v-3.84 M481.73,55.40 v3.84 M497.88,484.75 v-3.84 M497.88,55.40 v3.84 M511.53,484.75 v-3.84 M511.53,55.40 v3.84 M523.35,484.75 v-3.84 M523.35,55.40 v3.84 M533.78,484.75 v-3.84 M533.78,55.40 v3.84 M543.11,484.75 v-7.69 M543.11,55.40 v7.69 M604.49,484.75 v-3.84 M604.49,55.40 v3.84 M640.39,484.75 v-3.84 M640.39,55.40 v3.84 M665.86,484.75 v-3.84 M665.86,55.40 v3.84 M685.62,484.75 v-3.84 M685.62,55.40 v3.84 M701.77,484.75 v-3.84 M701.77,55.40 v3.84 M715.42,484.75 v-3.84 M715.42,55.40 v3.84 M727.24,484.75 v-3.84 M727.24,55.40 v3.84 M737.67,484.75 v-3.84 M737.67,55.40 v3.84 M747.00,484.75 v-7.69 M747.00,55.40 v7.69 M103.75,484.75 h7.69 M747.00,484.75 h-7.69 M103.75,398.88 h7.69 M747.00,398.88 h-7.69 M103.75,313.01 h7.69 M747.00,313.01 h-7.69 M103.75,227.14 h7.69 M747.00,227.14 h-7.69 M103.75,141.27 h7.69 M747.00,141.27 h-7.69 M103.75,55.40 h7.69 M747.00,55.40 h-7.69" stroke="#000" stroke-width="1.15" fill="none"/>
<rect x="103.75" y="55.40" width="643.25" height="429.35" fill="none" stroke="#000" stroke-width="1.92"/>
<text transform="translate(60.19,491.05) scale(1.0484,1)" font-size="24.47" font-family="Liberation Sans, sans-serif">0.0</text>
<text transform="translate(60.20,405.48) scale(1.0331,1)" font-size="24.47" font-family="Liberation Sans, sans-serif">0.2</text>
<text transform="translate(60.19,319.81) scale(1.0476,1)" font-size="24.47" font-family="Liberation Sans, sans-serif">0.4</text>
<text transform="translate(60.18,234.24) scale(1.0542,1)" font-size="24.47" font-family="Liberation Sans, sans-serif">0.6</text>
<text transform="translate(60.19,147.57) scale(1.0506,1)" font-size="24.47" font-family="Liberation Sans, sans-serif">0.8</text>
<text transform="translate(60.34,61.40) scale(1.0439,1)" font-size="24.47" font-family="Liberation Sans, sans-serif">1.0</text>
<text transform="translate(111.11,513.00) scale(1.0281,1)" font-size="24.47" font-family="Liberation Sans, sans-serif">10</text>
<text transform="translate(140.76,501.70) scale(1.0831,1)" font-size="17.13" font-family="Liberation Sans, sans-serif">-</text>
<text transform="translate(147.80,501.70) scale(0.9312,1)" font-size="17.13" font-family="Liberation Sans, sans-serif">1</text>
<text transform="translate(317.91,513.00) scale(1.0281,1)" font-size="24.47" font-family="Liberation Sans, sans-serif">10</text>
<text transform="translate(347.98,501.70) scale(1.0513,1)" font-size="17.13" font-family="Liberation Sans, sans-serif">0</text>
<text transform="translate(521.61,513.00) scale(1.0322,1)" font-size="24.47" font-family="Liberation Sans, sans-serif">10</text>
<text transform="translate(552.80,501.70) scale(0.9312,1)" font-size="17.13" font-family="Liberation Sans, sans-serif">1</text>
<text transform="translate(725.41,513.00) scale(1.0281,1)" font-size="24.47" font-family="Liberation Sans, sans-serif">10</text>
<text transform="translate(756.06,501.70) scale(0.9750,1)" font-size="17.13" font-family="Liberation Sans, sans-serif">2</text>
<text transform="translate(417.74,544.50) scale(0.9313,1)" font-size="24.47" font-family="Liberation Sans, sans-serif">A</text>
<text transform="translate(45.20,279.19) rotate(-90) scale(0.9399,1)" font-size="24.47" font-family="Liberation Sans, sans-serif">Q</text>
<path d="M130.00,110.30 H166.60" stroke="#000" stroke-width="3.84" fill="none" stroke-dasharray="11.53,11.53" stroke-linecap="butt"/>
<text transform="translate(188.17,117.00) scale(1.0918,1)" font-size="20.40" font-family="Liberation Sans, sans-serif" class="lg">fast 30°</text>
<path d="M130.00,138.54 H166.60" stroke="#000" stroke-width="3.84" fill="none" stroke-dasharray="5.77,9.61,1.92,9.61" stroke-linecap="butt"/>
<text transform="translate(188.17,145.10) scale(1.0918,1)" font-size="20.40" font-family="Liberation Sans, sans-serif" class="lg">fast 45°</text>
<path d="M130.00,166.78 H166.60" stroke="#000" stroke-width="3.84" fill="none" stroke-linecap="square"/>
<circle cx="130.00" cy="166.78" r="5.77" fill="#000" stroke="#000" stroke-width="0.96"/>
<circle cx="166.60" cy="166.78" r="5.77" fill="#000" stroke="#000" stroke-width="0.96"/>
<text transform="translate(188.17,173.60) scale(1.0918,1)" font-size="20.40" font-family="Liberation Sans, sans-serif" class="lg">fast 75°</text>
<path d="M130.00,195.02 H166.60" stroke="#000" stroke-width="3.84" fill="none" stroke-linecap="square"/>
<text transform="translate(187.60,202.20) scale(1.0726,1)" font-size="20.40" font-family="Liberation Sans, sans-serif" class="lg">slow 30°</text>
<path d="M130.00,223.26 H166.60" stroke="#000" stroke-width="3.84" fill="none" stroke-dasharray="1.92,5.77" stroke-linecap="butt"/>
<text transform="translate(187.60,230.30) scale(1.0726,1)" font-size="20.40" font-family="Liberation Sans, sans-serif" class="lg">slow 45°</text>
<path d="M130.00,251.50 H166.60" stroke="#000" stroke-width="3.84" fill="none" stroke-linecap="square"/>
<path d="M130.00,245.73 L131.29,249.72 L135.48,249.72 L132.09,252.18 L133.39,256.17 L130.00,253.70 L126.61,256.17 L127.91,252.18 L124.52,249.72 L128.71,249.72Z" fill="#000" stroke="#000" stroke-width="0.96" stroke-linejoin="miter"/>
<path d="M166.60,245.73 L167.89,249.72 L172.08,249.72 L168.69,252.18 L169.99,256.17 L166.60,253.70 L163.21,256.17 L164.51,252.18 L161.12,249.72 L165.31,249.72Z" fill="#000" stroke="#000" stroke-width="0.96" stroke-linejoin="miter"/>
<text transform="translate(187.60,258.50) scale(1.0726,1)" font-size="20.40" font-family="Liberation Sans, sans-serif" class="lg">slow 75°</text>
</svg>
</body></html>
